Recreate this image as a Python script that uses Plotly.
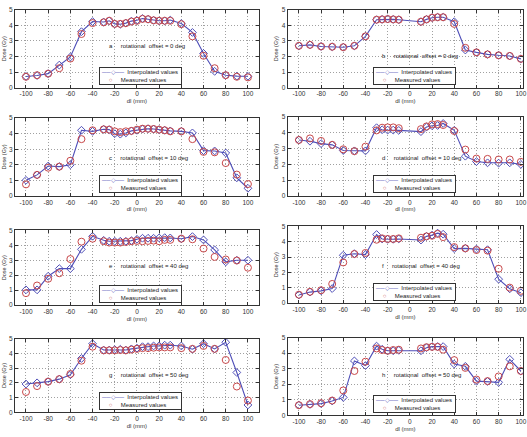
import plotly.graph_objects as go

# ---------------- data ----------------
X_FULL = [-100, -90, -80, -70, -60, -50, -40, -30, -25, -20, -15, -10, -5, 0, 5, 10, 15,
          20, 25, 30, 40, 50, 60, 70, 80, 90, 100]
X_GAP = [-100, -90, -80, -70, -60, -50, -40, -30, -25, -20, -15, -10, 10, 15, 20, 25, 30,
         40, 50, 60, 70, 80, 90, 100]

panel_labels = ["a", "b", "c", "d", "e", "f", "g", "h"]
panel_offsets = [0, 0, 10, 10, 40, 40, 50, 50]

interp_a = [0.72, 0.78, 0.9, 1.45, 1.97, 3.6, 4.25, 4.22, 4.3, 4.1, 4.08, 4.15, 4.28, 4.33, 4.45,
            4.4, 4.33, 4.3, 4.3, 4.35, 4.12, 3.55, 2.2, 1.05, 0.8, 0.74, 0.73]
meas_a = [0.7, 0.8, 0.9, 1.25, 1.87, 3.45, 4.15, 4.2, 4.3, 4.1, 4.1, 4.15, 4.25, 4.3, 4.42,
          4.4, 4.33, 4.3, 4.3, 4.3, 4.08, 3.3, 2.05, 1.25, 0.8, 0.7, 0.66]

interp_b = [2.69, 2.75, 2.65, 2.63, 2.6, 2.69, 3.3, 4.37, 4.39, 4.41, 4.39, 4.37, 4.24, 4.39,
            4.5, 4.53, 4.53, 4.24, 2.42, 2.27, 2.14, 2.08, 2.04, 1.85]
meas_b = [2.69, 2.75, 2.65, 2.63, 2.6, 2.69, 3.3, 4.37, 4.39, 4.41, 4.39, 4.37, 4.24, 4.39,
          4.5, 4.53, 4.53, 4.1, 2.56, 2.27, 2.14, 2.08, 2.04, 1.85]

interp_c = [1.0, 1.35, 1.92, 1.88, 2.0, 4.22, 4.15, 4.28, 4.26, 4.0, 3.97, 4.05, 4.18, 4.22, 4.3,
            4.32, 4.3, 4.26, 4.22, 4.18, 4.15, 4.05, 2.91, 2.89, 2.76, 1.16, 0.49]
meas_c = [0.74, 1.35, 1.81, 1.88, 2.26, 3.65, 4.22, 4.28, 4.26, 4.15, 4.1, 4.15, 4.18, 4.26, 4.32,
          4.32, 4.3, 4.26, 4.22, 4.15, 4.15, 3.65, 2.83, 2.8, 2.11, 1.37, 0.76]

interp_d = [3.55, 3.47, 3.32, 3.24, 2.88, 2.86, 2.86, 4.33, 4.2, 4.18, 4.18, 4.16, 4.08, 4.37,
            4.45, 4.47, 4.6, 4.16, 2.52, 2.18, 2.1, 2.08, 2.1, 2.0]
meas_d = [3.55, 3.65, 3.49, 3.24, 2.96, 2.84, 3.13, 4.16, 4.33, 4.35, 4.35, 4.3, 4.24, 4.41,
          4.54, 4.56, 4.5, 4.12, 2.94, 2.37, 2.35, 2.31, 2.31, 2.16]

interp_e = [1.02, 1.02, 1.93, 2.44, 2.44, 3.73, 4.6, 4.33, 4.27, 4.27, 4.27, 4.27, 4.31, 4.4, 4.47,
            4.47, 4.47, 4.49, 4.51, 4.49, 4.44, 4.58, 4.36, 3.69, 2.89, 3.0, 3.0]
meas_e = [0.8, 1.31, 1.76, 2.13, 3.08, 4.24, 4.44, 4.27, 4.18, 4.18, 4.18, 4.22, 4.27, 4.29, 4.27,
          4.29, 4.31, 4.27, 4.36, 4.36, 4.44, 4.4, 3.78, 3.22, 3.05, 2.98, 2.5]

interp_f = [0.53, 0.72, 0.8, 0.95, 3.12, 3.22, 3.16, 4.47, 4.18, 4.16, 4.16, 4.18, 4.11, 4.35,
            4.43, 4.56, 4.49, 3.55, 3.57, 3.52, 3.48, 1.56, 0.93, 0.68]
meas_f = [0.55, 0.74, 0.84, 1.25, 2.65, 3.2, 3.27, 4.13, 4.22, 4.18, 4.18, 4.22, 4.26, 4.35,
          4.39, 4.51, 4.3, 3.65, 3.57, 3.46, 3.42, 2.24, 1.01, 0.8]

interp_g = [1.92, 2.0, 2.08, 2.25, 2.55, 3.65, 4.65, 4.22, 4.22, 4.25, 4.27, 4.22, 4.3, 4.35, 4.45,
            4.45, 4.5, 4.5, 4.55, 4.55, 4.5, 4.28, 4.65, 4.3, 4.75, 2.7, 0.5]
meas_g = [1.38, 1.78, 2.08, 2.25, 2.6, 3.5, 4.45, 4.2, 4.2, 4.2, 4.22, 4.2, 4.25, 4.3, 4.35,
          4.35, 4.38, 4.4, 4.4, 4.4, 4.35, 4.3, 4.5, 4.3, 3.55, 1.75, 0.8]

interp_h = [0.65, 0.7, 0.75, 0.92, 1.15, 3.5, 3.2, 4.45, 4.25, 4.15, 4.15, 4.18, 4.15, 4.35,
            4.42, 4.42, 4.42, 3.3, 3.15, 2.2, 2.18, 2.12, 3.6, 2.85]
meas_h = [0.65, 0.72, 0.78, 0.95, 1.6, 2.85, 3.45, 4.3, 4.2, 4.15, 4.2, 4.22, 4.3, 4.38,
          4.4, 4.4, 4.22, 3.55, 3.05, 2.3, 2.2, 2.5, 3.15, 2.85]

panel_x = [X_FULL, X_GAP, X_FULL, X_GAP, X_FULL, X_GAP, X_FULL, X_GAP]
panel_interp = [interp_a, interp_b, interp_c, interp_d, interp_e, interp_f, interp_g, interp_h]
panel_meas = [meas_a, meas_b, meas_c, meas_d, meas_e, meas_f, meas_g, meas_h]
text_y = [2.68, 2.05, 2.43, 2.42, 2.6, 2.43, 2.55, 2.6]

x_tick_vals = [-100, -80, -60, -40, -20, 0, 20, 40, 60, 80, 100]
x_tick_text = ["-100", "-80", "-60", "-40", "-20", "0", "20", "40", "60", "80", "100"]
y_tick_vals = [0, 1, 2, 3, 4, 5]

# ---------------- layout geometry ----------------
W, H = 527, 437
FONT = "Liberation Sans, Arial, sans-serif"
LINE_BLUE = "#4f4fb8"
RED = "#c8484a"


def ydom(top, bottom):
    return [(H - bottom) / H, (H - top) / H]


left_dom = [15 / W, 261 / W]
right_dom = [290 / W, 1.0]
px_per_unit = 246 / 220
right_range = [-110, -110 + (W - 290) / px_per_unit]

row_px = [(6, 85), (6, 85), (116, 195), (115, 195), (230, 306), (226, 304), (340, 415), (339, 418)]

fig = go.Figure()
annotations = []
for i in range(8):
    n = i + 1
    xa = "x" if n == 1 else f"x{n}"
    ya = "y" if n == 1 else f"y{n}"
    fig.add_trace(go.Scatter(
        x=panel_x[i], y=panel_interp[i], mode="lines+markers", xaxis=xa, yaxis=ya,
        line=dict(color=LINE_BLUE, width=1.1),
        marker=dict(symbol="diamond-open", size=6, color=LINE_BLUE, line=dict(width=1)),
        name="Interpolated values", showlegend=False))
    fig.add_trace(go.Scatter(
        x=panel_x[i], y=panel_meas[i], mode="markers", xaxis=xa, yaxis=ya,
        marker=dict(symbol="circle-open", size=7, color=RED, line=dict(width=1)),
        name="Measured values", showlegend=False))

    is_left = (i % 2 == 0)
    top, bot = row_px[i]
    xkey = "xaxis" if n == 1 else f"xaxis{n}"
    ykey = "yaxis" if n == 1 else f"yaxis{n}"
    common = dict(showgrid=True, gridcolor="#a0a0a0", griddash="1px,2px", gridwidth=1,
                  showline=True, linecolor="#333", linewidth=1, mirror="ticks",
                  ticks="inside", ticklen=3, tickcolor="#333", zeroline=False,
                  tickfont=dict(size=6.5, color="#333", family=FONT))
    fig.update_layout({
        xkey: dict(domain=left_dom if is_left else right_dom,
                   range=[-110, 110] if is_left else right_range,
                   anchor=ya, tickvals=x_tick_vals, ticktext=x_tick_text,
                   ticklabeloverflow="allow",
                   title=dict(text="dl (mm)", font=dict(size=6, color="#333", family=FONT), standoff=2),
                   **common),
        ykey: dict(domain=ydom(top, bot), range=[0, 5], anchor=xa, tickvals=y_tick_vals,
                   title=dict(text="Dose (Gy)", font=dict(size=5.5, color="#333", family=FONT), standoff=2),
                   **common),
    })

    nb = "\u00a0"
    annotations.append(dict(
        xref=xa, yref=ya, x=-27, y=text_y[i], xanchor="left", yanchor="middle",
        text=f"{panel_labels[i]}{nb*5}rotational{nb*2}offset = {panel_offsets[i]} deg",
        showarrow=False, font=dict(size=6, color="#222", family=FONT)))
    leg_x = -34 if is_left else -33.5
    annotations.append(dict(
        xref=xa, yref=ya, x=leg_x, y=0.17, xanchor="left", yanchor="bottom", align="left",
        text=(f"<span style='color:{LINE_BLUE}'>──◇──</span>{nb*2}Interpolated values{nb}<br>"
              f"{nb*4}<span style='color:{RED}'>○</span>{nb*5}Measured values"),
        showarrow=False, bgcolor="white", bordercolor="#333", borderwidth=1, borderpad=1,
        font=dict(size=6, color="#222", family=FONT)))

fig.update_layout(
    width=W, height=H, margin=dict(l=0, r=0, t=0, b=0),
    paper_bgcolor="white", plot_bgcolor="white",
    font=dict(family=FONT, size=6.5, color="#333"),
    annotations=annotations, showlegend=False)

fig.write_html("out.html", config={"displayModeBar": False},
               post_script="document.body.style.margin='0';document.body.style.overflow='hidden';")
